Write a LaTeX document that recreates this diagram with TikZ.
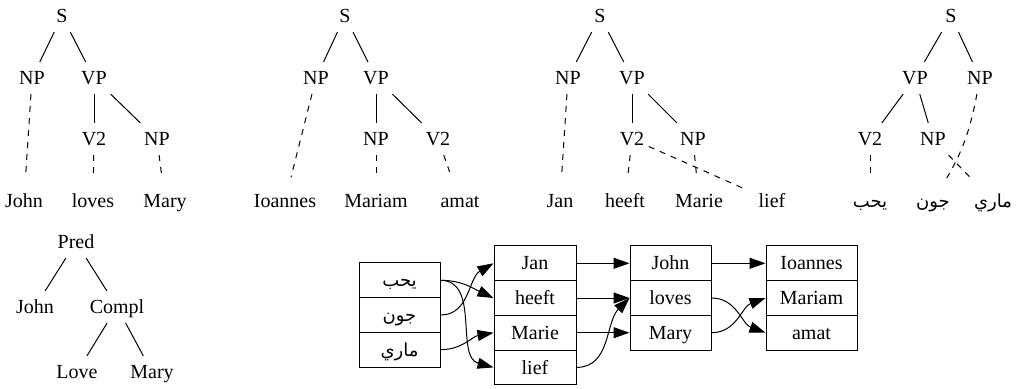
\documentclass[tikz,border=0pt]{standalone}
\usepackage{fontspec}
\setmainfont{Liberation Serif}
\newfontfamily\arabicfont[Script=Arabic,Scale=0.9]{DejaVu Sans}
\TeXXeTstate=1
\usetikzlibrary{arrows.meta}
\newcommand{\arab}[1]{{\arabicfont\beginR #1\endR}}

\begin{document}
\begin{tikzpicture}[x=0.5pt,y=-0.5pt,line width=0.5pt,
    lbl/.style={inner xsep=2pt,inner ysep=4.5pt,text height=6.6pt,text depth=0pt},
    trace/.style={dashed,shorten >=4pt},
    cell/.style={draw,minimum height=17.35pt,inner sep=0pt,text height=6.6pt,text depth=0pt},
    link/.style={-{Triangle[length=8pt,width=5.5pt]}}]
        \useasboundingbox (0,0) rectangle (1018,388);
        % English tree
        \node[lbl] (eS) at (62,16) {S};
        \node[lbl] (eNP) at (32,78) {NP};
        \node[lbl] (eVP) at (94,78) {VP};
        \node[lbl] (eV) at (94,139) {V2};
        \node[lbl] (eNPo) at (157,139) {NP};
        \node[lbl] (eJohn) at (24,201) {John};
        \node[lbl] (eLoves) at (93,201) {loves};
        \node[lbl] (eMary) at (165,201) {Mary};
        \draw (eS) -- (eNP);
        \draw (eS) -- (eVP);
        \draw (eVP) -- (eV);
        \draw (eVP) -- (eNPo);
        \draw[trace] (eNP) -- (eJohn);
        \draw[trace] (eV) -- (eLoves);
        \draw[trace] (eNPo) -- (eMary);
        % Latin tree
        \node[lbl] (lS) at (345,16) {S};
        \node[lbl] (lNP) at (316,78) {NP};
        \node[lbl] (lVP) at (376,78) {VP};
        \node[lbl] (lNPo) at (376,139) {NP};
        \node[lbl] (lV) at (438,139) {V2};
        \node[lbl] (lIoannes) at (285,201) {Ioannes};
        \node[lbl] (lMariam) at (376,201) {Mariam};
        \node[lbl] (lAmat) at (460,201) {amat};
        \draw (lS) -- (lNP);
        \draw (lS) -- (lVP);
        \draw (lVP) -- (lNPo);
        \draw (lVP) -- (lV);
        \draw[trace] (lNP) -- (lIoannes);
        \draw[trace] (lNPo) -- (lMariam);
        \draw[trace] (lV) -- (lAmat);
        % Dutch tree
        \node[lbl] (dS) at (600,16) {S};
        \node[lbl] (dNP) at (568,78) {NP};
        \node[lbl] (dVP) at (632,78) {VP};
        \node[lbl] (dV) at (632,139) {V2};
        \node[lbl] (dNPo) at (693,139) {NP};
        \node[lbl] (dJan) at (560,201) {Jan};
        \node[lbl] (dHeeft) at (625,201) {heeft};
        \node[lbl] (dMarie) at (699,201) {Marie};
        \node[lbl] (dLief) at (772,201) {lief};
        \draw (dS) -- (dNP);
        \draw (dS) -- (dVP);
        \draw (dVP) -- (dV);
        \draw (dVP) -- (dNPo);
        \draw[trace] (dNP) -- (dJan);
        \draw[trace] (dV) -- (dHeeft);
        \draw[trace] (dV) -- (dLief);
        \draw[trace] (dNPo) -- (dMarie);
        % Arabic tree
        \node[lbl] (aS) at (951,16) {S};
        \node[lbl] (aVP) at (915,78) {VP};
        \node[lbl] (aNP) at (980,78) {NP};
        \node[lbl] (aV) at (870,139) {V2};
        \node[lbl] (aNPo) at (933,139) {NP};
        \node[lbl] (aYhb) at (870,201) {\arab{يحب}};
        \node[lbl] (aJwn) at (933,201) {\arab{جون}};
        \node[lbl] (aMary) at (993,201) {\arab{ماري}};
        \draw (aS) -- (aVP);
        \draw (aS) -- (aNP);
        \draw (aVP) -- (aV);
        \draw (aVP) -- (aNPo);
        \draw[trace] (aV) -- (aYhb);
        \draw[trace] (aNP) to[bend left=10] (aJwn);
        \draw[trace] (aNPo) -- (aMary);
        % predicate tree
        \node[lbl] (pPred) at (76,242) {Pred};
        \node[lbl] (pJohn) at (35,307) {John};
        \node[lbl] (pCompl) at (117,307) {Compl};
        \node[lbl] (pLove) at (77,372) {Love};
        \node[lbl] (pMary) at (152,372) {Mary};
        \draw (pPred) -- (pJohn);
        \draw (pPred) -- (pCompl);
        \draw (pCompl) -- (pLove);
        \draw (pCompl) -- (pMary);
        % word order records
        \node[cell,minimum width=40.5pt] (ar1) at (399.5,280.3) {\arab{يحب}};
        \node[cell,minimum width=40.5pt] (ar2) at (399.5,315) {\arab{جون}};
        \node[cell,minimum width=40.5pt] (ar3) at (399.5,349.7) {\arab{ماري}};
        \node[cell,minimum width=41pt] (nl1) at (535,263.3) {Jan};
        \node[cell,minimum width=41pt] (nl2) at (535,298) {heeft};
        \node[cell,minimum width=41pt] (nl3) at (535,332.7) {Marie};
        \node[cell,minimum width=41pt] (nl4) at (535,367.4) {lief};
        \node[cell,minimum width=40.5pt] (en1) at (670.5,263.3) {John};
        \node[cell,minimum width=40.5pt] (en2) at (670.5,298) {loves};
        \node[cell,minimum width=40.5pt] (en3) at (670.5,332.7) {Mary};
        \node[cell,minimum width=45.5pt] (la1) at (811.5,263.3) {Ioannes};
        \node[cell,minimum width=45.5pt] (la2) at (811.5,298) {Mariam};
        \node[cell,minimum width=45.5pt] (la3) at (811.5,332.7) {amat};
        \draw[link] (ar1.east) to[out=0,in=155] (nl2.west);
        \draw[link] (ar1.east) to[out=0,in=165] (nl4.west);
        \draw[link] (ar2.east) to[out=0,in=210] (nl1.west);
        \draw[link] (ar3.east) to[out=0,in=190] (nl3.west);
        \draw[link] (nl1) -- (en1);
        \draw[link] (nl2) -- (en2);
        \draw[link] (nl3) -- (en3);
        \draw[link] (nl4.east) to[out=0,in=225] (en2.west);
        \draw[link] (en1) -- (la1);
        \draw[link] (en2.east) to[out=0,in=160] (la3.west);
        \draw[link] (en3.east) to[out=0,in=200] (la2.west);
\end{tikzpicture}
\end{document}
